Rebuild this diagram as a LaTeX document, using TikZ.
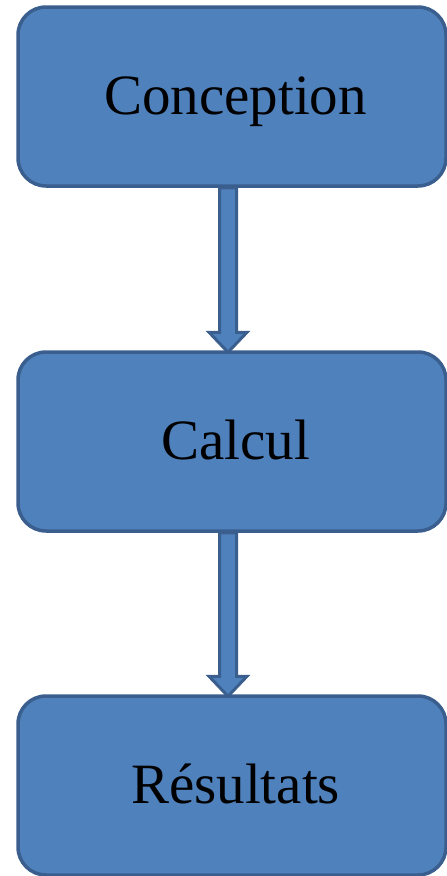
\documentclass[tikz,border=0pt]{standalone}
\usepackage{fontspec}
\setmainfont{Liberation Serif}
\usetikzlibrary{calc}
\definecolor{boxfill}{HTML}{4F81BD}
\definecolor{boxline}{HTML}{3A5F8E}
\begin{document}
\begin{tikzpicture}[x=1pt,y=-1pt,
  stepbox/.style={draw=boxline, fill=boxfill, line width=3.5pt, rounded corners=28pt,
    minimum width=428pt, minimum height=179pt, inner sep=0pt},
  steptext/.style={font=\fontsize{57}{62}\selectfont, inner sep=0pt,
    text height=40pt, text depth=4pt, xshift=3.5pt},
  blockarrow/.style={draw=boxline, fill=boxfill, line width=3pt, line join=miter}]
\useasboundingbox (0,0) rectangle (447,876);
\node[stepbox, label={[steptext]center:Conception}] (c1) at (232,96.5) {};
\node[stepbox, label={[steptext]center:Calcul}] (c2) at (232,441.5) {};
\node[stepbox, label={[steptext]center:Résultats}] (c3) at (232,785.5) {};
\foreach \a/\b in {c1/c2, c2/c3}{
  \draw[blockarrow]
    ($(\a.south)+(-12.5,0)$) -- ($(\b.north)+(-12.5,-18)$) -- ($(\b.north)+(-23,-18)$)
    -- ($(\b.north)+(-4,2)$) -- ($(\b.north)+(15,-18)$) -- ($(\b.north)+(4.5,-18)$)
    -- ($(\a.south)+(4.5,0)$) -- cycle;
}
\end{tikzpicture}
\end{document}
